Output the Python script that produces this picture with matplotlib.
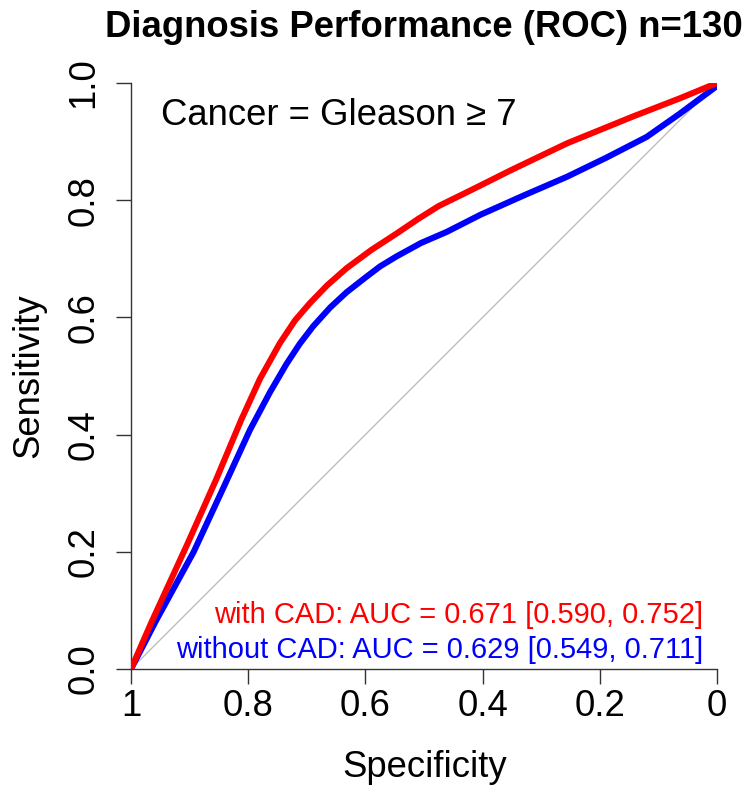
import matplotlib
matplotlib.use("Agg")
import matplotlib.pyplot as plt

plt.rcParams['font.family'] = ['Liberation Sans', 'DejaVu Sans']

# Data (specificity, sensitivity)
spec_cad = [1.0, 0.965, 0.903, 0.854, 0.812, 0.780, 0.746, 0.720, 0.695, 0.665, 0.632,
            0.590, 0.547, 0.510, 0.475, 0.420, 0.350, 0.256, 0.143, 0.063, 0.0]
sens_cad = [0.0, 0.080, 0.215, 0.325, 0.425, 0.495, 0.556, 0.595, 0.624, 0.655, 0.684,
            0.715, 0.743, 0.768, 0.790, 0.817, 0.852, 0.897, 0.943, 0.974, 1.0]

spec_nocad = [1.0, 0.957, 0.893, 0.842, 0.797, 0.763, 0.735, 0.712, 0.689, 0.660, 0.632,
              0.600, 0.575, 0.547, 0.505, 0.461, 0.404, 0.330, 0.256, 0.190, 0.120, 0.063, 0.0]
sens_nocad = [0.0, 0.083, 0.200, 0.310, 0.408, 0.472, 0.520, 0.555, 0.585, 0.617, 0.643,
              0.668, 0.687, 0.704, 0.727, 0.746, 0.775, 0.808, 0.840, 0.872, 0.908, 0.948, 0.995]

x_ticks = [1.0, 0.8, 0.6, 0.4, 0.2, 0.0]
x_ticklabels = ["1", "0.8", "0.6", "0.4", "0.2", "0"]
y_ticks = [0.0, 0.2, 0.4, 0.6, 0.8, 1.0]
y_ticklabels = ["0.0", "0.2", "0.4", "0.6", "0.8", "1.0"]

title = "Diagnosis Performance (ROC) n=130"
label_cad = "with CAD: AUC = 0.671 [0.590, 0.752]"
label_nocad = "without CAD: AUC = 0.629 [0.549, 0.711]"

W, H = 746, 789
fig = plt.figure(figsize=(W / 100, H / 100), dpi=100)
ax = fig.add_axes([131 / W, 1 - 669 / H, 586 / W, 586 / H])

ax.plot([1, 0], [0, 1], color="#BEBEBE", lw=1.0, zorder=1)
ax.plot(spec_cad, sens_cad, color="#FF0000", lw=4.4, solid_capstyle="butt",
        solid_joinstyle="round", zorder=3)
ax.plot(spec_nocad, sens_nocad, color="#0000FF", lw=4.4, solid_capstyle="butt",
        solid_joinstyle="round", zorder=2)

ax.set_xlim(1, 0)
ax.set_ylim(0, 1)
for s in ["top", "right"]:
    ax.spines[s].set_visible(False)
for s in ["left", "bottom"]:
    ax.spines[s].set_linewidth(1.0)
    ax.spines[s].set_color("#333333")

ax.set_xticks(x_ticks)
ax.set_xticklabels(x_ticklabels)
ax.set_yticks(y_ticks)
ax.set_yticklabels(y_ticklabels, rotation=90, va="center")
ax.tick_params(axis="both", direction="out", length=10.8, width=1.0, color="#333333",
               labelsize=26.3, labelcolor="#000000")
ax.tick_params(axis="x", pad=3.5)
ax.tick_params(axis="y", pad=10.5)

ax.text(0.948, 0.928, "Cancer = Gleason \u2265 7", ha="left", va="baseline",
        fontsize=26.3, color="#000000")
ax.text(0.0234, 0.079, label_cad, ha="right", va="baseline", fontsize=21, color="#FF0000")
ax.text(0.0234, 0.0188, label_nocad, ha="right", va="baseline", fontsize=21, color="#0000FF")

fig.text(424 / W, 1 - 36.7 / H, title, ha="center", va="baseline", fontsize=26.3,
         fontweight="bold")
fig.text(425 / W, 1 - 777 / H, "Specificity", ha="center", va="baseline", fontsize=26.3)
fig.text(38.5 / W, 1 - 375.5 / H, "Sensitivity", ha="center", va="baseline", fontsize=26.3,
         rotation=90, rotation_mode="anchor")

fig.savefig("out.png", dpi=100, facecolor="white")
